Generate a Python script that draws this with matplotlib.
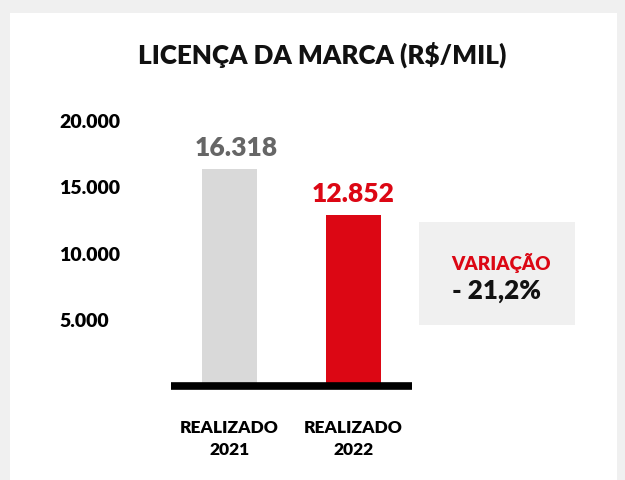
import matplotlib
matplotlib.use("Agg")
import matplotlib.pyplot as plt
from matplotlib.patches import Rectangle

categories = ["REALIZADO\n2021", "REALIZADO\n2022"]
values = [16318, 12852]
value_labels = ["16.318", "12.852"]
yticks = [5000, 10000, 15000, 20000]
ytick_labels = ["5.000", "10.000", "15.000", "20.000"]
title = "LICENÇA DA MARCA (R$/MIL)"
variation_title = "VARIAÇÃO"
variation_value = "- 21,2%"

W, H = 625, 481
fig = plt.figure(figsize=(W / 100, H / 100), dpi=100)
fig.patch.set_facecolor("#f0f0f0")
fig.patches.append(Rectangle((9.6 / W, 0), (617 - 9.6) / W, (H - 14) / H,
                             transform=fig.transFigure, facecolor="white",
                             edgecolor="none", zorder=-10))

FONT = "Lato"
ax_left, ax_right = 170.7, 411.7
ax_bottom_px, ax_top_px = 387, 94.4
ax = fig.add_axes([ax_left / W, (H - ax_bottom_px) / H,
                   (ax_right - ax_left) / W, (ax_bottom_px - ax_top_px) / H])
ax.set_facecolor("none")
ax.set_zorder(5)

colors = ["#d9d9d9", "#dc0714"]
label_colors = ["#666666", "#dc0714"]
x = [0, 1]
bars = ax.bar(x, values, width=0.4425, color=colors, zorder=1)
ax.set_xlim(-0.4706, 1.468)
ax.set_ylim(0, 22000)

offsets = [(5, 7), (0, 7)]
for xi, v, lab, c, off in zip(x, values, value_labels, label_colors, offsets):
    ax.annotate(lab, (xi, v), xytext=off, textcoords="offset points",
                ha="center", va="bottom", fontsize=19, fontweight="heavy",
                color=c, family=FONT)

for s in ["top", "right", "left"]:
    ax.spines[s].set_visible(False)
ax.spines["bottom"].set_linewidth(5.5)
ax.spines["bottom"].set_color("black")
ax.spines["bottom"].set_capstyle("butt")

ax.set_yticks(yticks)
ax.set_yticklabels(ytick_labels, fontsize=14, fontweight="heavy", family=FONT)
ax.tick_params(axis="y", length=0, pad=80.4)
for t in ax.get_yticklabels():
    t.set_ha("left")

ax.set_xticks(x)
ax.set_xticklabels(categories, fontsize=12.5, fontweight="heavy", family=FONT,
                   linespacing=1.45)
ax.tick_params(axis="x", length=0, pad=24)

fig.text(322 / W, 1 - 55 / H, title, ha="center", va="center",
         fontsize=18.7, fontweight="heavy", family=FONT, color="#111111")

fig.patches.append(Rectangle((419 / W, 1 - 325.7 / H), (575 - 419) / W,
                             (325.7 - 222.7) / H, transform=fig.transFigure,
                             facecolor="#f0f0f0", edgecolor="none", zorder=-5))
fig.text(501 / W, 1 - 263 / H, variation_title, ha="center", va="center",
         fontsize=13.5, fontweight="heavy", family=FONT, color="#dc0714")
fig.text(497 / W, 1 - 291 / H, variation_value, ha="center", va="center",
         fontsize=18.7, fontweight="heavy", family=FONT, color="#111111")

fig.savefig("out.png", dpi=100, facecolor=fig.get_facecolor())
